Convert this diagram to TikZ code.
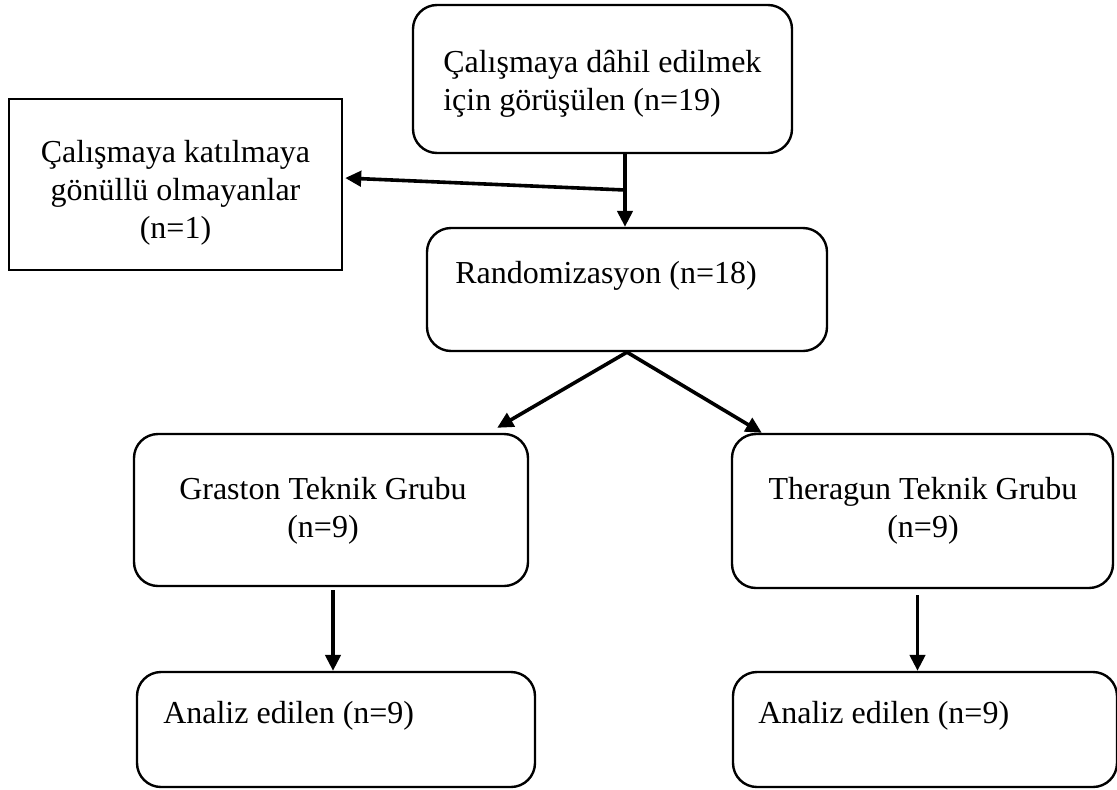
\documentclass[tikz,border=0pt]{standalone}
\usepackage{fontspec}
\setmainfont{Liberation Serif}
\usetikzlibrary{arrows.meta,calc}
\begin{document}
\begin{tikzpicture}[x=0.75pt,y=-0.75pt,
  box/.style={draw=black,line width=1.8pt,rounded corners=18pt,inner sep=0pt},
  sqbox/.style={draw=black,line width=1.8pt,inner sep=0pt},
  txt/.style={inner sep=0pt,font=\fontsize{24}{28.5}\selectfont},
  arr/.style={line width=2.7pt,-{Triangle[length=12pt,width=11.5pt]}}]
\useasboundingbox (0,0) rectangle (1117,789);
% boxes
\node[box,minimum width=284.25pt,minimum height=111pt] (b1) at (602.5,79) {};
\node[sqbox,minimum width=249.75pt,minimum height=128.25pt] (b2) at (175.5,184.5) {};
\node[box,minimum width=300pt,minimum height=92.25pt] (b3) at (627,289.5) {};
\node[box,minimum width=295.5pt,minimum height=114pt] (b4) at (331,510) {};
\node[box,minimum width=285.75pt,minimum height=115.5pt] (b5) at (922.5,511) {};
\node[box,minimum width=298.5pt,minimum height=86.25pt] (b6) at (336,729.5) {};
\node[box,minimum width=288pt,minimum height=86.25pt] (b7) at (925,729.5) {};
% texts
\node[txt,anchor=base west] (t1a) at (443,72) {Çalışmaya dâhil edilmek};
\node[txt,anchor=base west] (t1b) at (443,110) {için görüşülen (n=19)};
\node[txt,anchor=base] (t2a) at (175.5,162) {Çalışmaya katılmaya};
\node[txt,anchor=base] (t2b) at (175.5,200) {gönüllü olmayanlar};
\node[txt,anchor=base] (t2c) at (175.5,238) {(n=1)};
\node[txt,anchor=base west] (t3) at (455,283) {Randomizasyon (n=18)};
\node[txt,anchor=base] (t4a) at (323,499) {Graston Teknik Grubu};
\node[txt,anchor=base] (t4b) at (323,537) {(n=9)};
\node[txt,anchor=base] (t5a) at (923,499) {Theragun Teknik Grubu};
\node[txt,anchor=base] (t5b) at (923,537) {(n=9)};
\node[txt,anchor=base west] (t6) at (163,723) {Analiz edilen (n=9)};
\node[txt,anchor=base west] (t7) at (758,723) {Analiz edilen (n=9)};
% connectors
\coordinate (j) at (625,190);
\draw[arr] (b1.south -| j) -- (b3.north -| j);
\draw[arr] (j) -- ($(b2.east)+(2,-6.5)$);
\draw[arr] (b3.south) -- ($(b4.north east)+(-32,-5)$);
\draw[arr] (b3.south) -- ($(b5.north west)+(31,0)$);
\draw[arr] ($(b4.south)+(2,3)$) -- ($(b4.south |- b6.north)+(2,0)$);
\draw[arr] ($(b5.south)+(-5,6)$) -- ($(b5.south |- b7.north)+(-5,0)$);
\end{tikzpicture}
\end{document}
